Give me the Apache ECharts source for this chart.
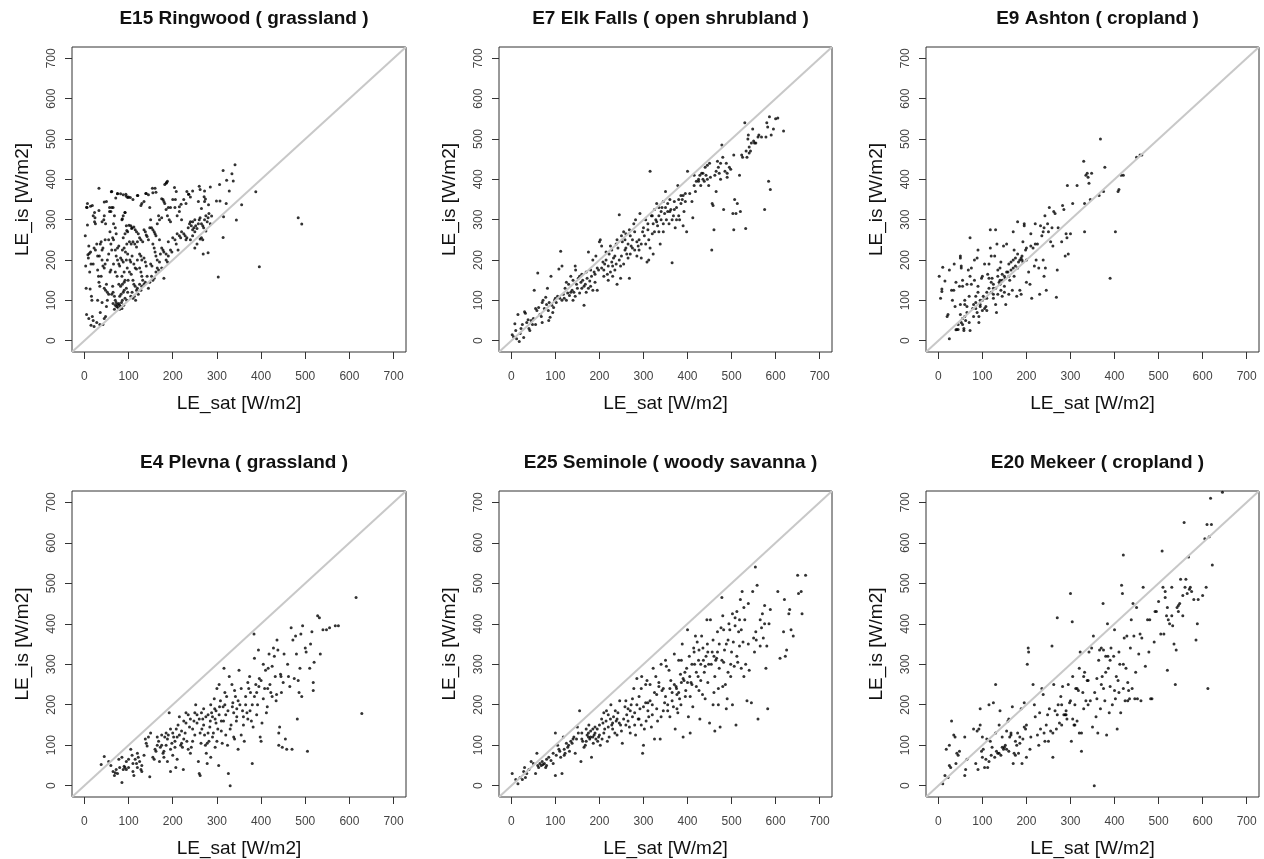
<!DOCTYPE html>
<html>
<head>
<meta charset="utf-8">
<title>LE_is vs LE_sat</title>
<script src="https://cdn.jsdelivr.net/npm/echarts@6/dist/echarts.min.js"></script>
<style>
  html, body { margin: 0; padding: 0; background: #fff; }
  #chart { width: 1264px; height: 859px; }
</style>
</head>
<body>
<div id="chart"></div>
<script>
// panel titles, in reading order
const titles = [
  "E15 Ringwood ( grassland )",
  "E7 Elk Falls ( open shrubland )",
  "E9 Ashton ( cropland )",
  "E4 Plevna ( grassland )",
  "E25 Seminole ( woody savanna )",
  "E20 Mekeer ( cropland )"
];
const tickValues = [0, 100, 200, 300, 400, 500, 600, 700];
const xName = "LE_sat [W/m2]";
const yName = "LE_is [W/m2]";

// [LE_sat, LE_is] pairs
const ringwood = [
  [341,436],[314,422],[334,414],[337,396],[322,398],[328,371],[306,387],[388,369],[299,346],[307,346],
  [321,340],[356,337],[315,307],[344,299],[314,256],[303,158],[396,183],[484,305],[492,289],[280,218],
  [269,215],[275,272],[288,309],[281,337],[272,345],[274,351],[271,357],[285,381],[260,383],[272,371],
  [245,371],[236,363],[232,370],[219,338],[215,332],[206,350],[204,380],[186,392],[182,387],[154,378],
  [155,367],[139,365],[121,360],[100,356],[94,363],[82,364],[75,364],[61,369],[71,354],[33,378],
  [7,340],[5,331],[14,333],[23,318],[33,323],[45,344],[57,330],[62,330],[92,318],[86,302],
  [96,273],[107,278],[101,286],
  [2,260],[3,185],[4,130],[6,330],[7,287],[8,213],[9,205],[10,235],[11,216],[12,170],
  [13,128],[14,220],[15,190],[16,110],[17,100],[18,60],[20,50],[22,35],[5,65],[10,55],
  [15,38],[20,190],[22,230],[25,225],[18,335],[20,310],[24,305],[23,295],[25,290],
  [28,240],[30,175],[32,160],[33,145],[35,135],[30,210],[34,210],[36,240],[38,245],[40,225],
  [42,230],[44,300],[45,310],[48,290],[40,295],[42,185],[45,180],[47,190],[50,140],[52,120],
  [55,115],[48,125],[36,70],[40,95],[42,40],[45,55],[48,60],[50,85],[52,100],[55,250],
  [57,320],[60,320],[58,270],[55,215],[60,175],[58,170],[52,200],[50,345],[47,250],[40,200],
  [38,160],[45,130],[30,100],[35,40],[28,45],
  [62,370],[65,330],[68,310],[66,290],[70,280],[72,265],[75,230],[78,235],[70,225],[72,210],
  [75,200],[78,190],[80,185],[82,205],[85,200],[88,195],[66,190],[70,170],[74,160],[78,140],
  [82,135],[86,140],[90,145],[92,150],[65,120],[68,110],[70,100],[72,95],[75,90],[78,92],
  [80,88],[82,85],[84,95],[86,100],[70,88],[73,85],[76,82],[68,78],[65,92],[62,115],
  [64,135],[80,110],[83,115],[88,120],[90,125],[75,365],[88,362],[95,358],[98,355],[92,318],
  [88,310],[85,300],[95,285],[98,270],[92,265],[88,255],[96,240],[90,230],[86,225],[93,220],
  [98,215],[95,200],[97,180],[90,170],[85,160],[99,150],[95,130],[98,120],[92,105],[96,100],
  [89,88],[85,80],[80,78],[62,225],[60,240],[64,255],[66,250],
  [104,355],[110,350],[120,360],[128,335],[130,340],[135,345],[140,365],[145,362],[148,330],
  [105,285],[108,280],[112,282],[115,275],[118,270],[122,265],[125,255],[128,250],[132,245],[135,275],
  [138,270],[140,262],[142,258],[145,250],[148,280],[102,245],[106,240],[110,245],[114,240],[118,232],
  [120,245],[125,215],[128,210],[130,200],[135,205],[138,195],[140,185],[103,200],[105,195],[108,210],
  [112,190],[115,180],[118,178],[120,200],[125,180],[128,170],[130,160],[132,150],[135,140],[138,145],
  [142,160],[145,130],[148,145],[102,170],[106,165],[110,150],[112,140],[115,135],[118,125],[120,130],
  [122,115],[125,140],[128,125],[130,135],[105,110],[108,120],[110,105],[113,110],[116,100],
  [150,300],[152,280],[155,275],[158,270],[160,265],[162,260],[165,290],[168,310],[170,300],[175,305],
  [178,350],[180,345],[182,340],[185,325],[188,310],[190,330],[192,300],[195,295],[160,378],[162,368],
  [175,352],[188,395],[185,390],[195,330],[155,240],[158,230],[160,220],[162,210],[165,200],[170,195],
  [172,215],[175,230],[178,225],[180,220],[185,215],[188,195],[190,245],[195,225],[198,220],[152,160],
  [155,150],[158,155],[162,170],[165,180],[168,175],[170,250],[175,180],[180,155],[185,200],[190,210],
  [150,190],[153,185],
  [200,255],[205,250],[208,240],[210,265],[215,260],[218,255],[220,270],[225,265],[228,260],[230,250],
  [232,255],[235,280],[238,290],[240,295],[242,285],[245,275],[248,280],[250,270],[252,285],[255,278],
  [258,290],[260,300],[262,305],[265,290],[268,285],[270,280],[272,300],[275,310],[278,295],[280,305],
  [282,315],[285,290],[262,252],[265,255],[268,250],[240,250],[245,260],[250,230],[255,240],[212,225],
  [210,310],[215,320],[220,300],[205,330],[200,350],[208,370],[225,350],[230,340],[236,363],[240,356],
  [258,345],[262,375],[265,328],[245,295],[250,300]
];

const elkFalls = [
  [2,15],[5,10],[8,42],[10,25],[12,5],[15,65],[18,-2],[20,18],[22,30],[25,40],
  [28,8],[30,72],[32,68],[35,45],[38,52],[40,30],[42,25],[45,50],[48,40],[50,55],
  [52,125],[55,80],[58,75],[60,168],[62,82],[65,65],[68,60],[70,95],[72,100],[75,80],
  [78,108],[80,90],[82,130],[84,75],[86,95],[88,58],[90,160],[92,88],[94,70],[96,82],
  [98,100],[100,105],[85,50],[70,45],[55,40],
  [102,95],[105,110],[108,178],[110,105],[112,222],[115,185],[118,115],[120,105],[122,130],[125,145],
  [128,118],[130,140],[132,112],[135,160],[138,125],[140,150],[142,120],[145,185],[148,140],[150,130],
  [152,155],[155,118],[158,145],[160,165],[162,150],[165,88],[168,140],[170,170],[172,155],[175,220],
  [178,148],[180,175],[182,160],[185,200],[188,170],[190,165],[192,210],[195,180],[198,175],[200,245],
  [146,175],[155,160],[135,120],[125,100],[115,100],[160,130],[170,120],[180,135],[190,145],[195,125],
  [185,125],[175,130],[165,135],[145,110],[140,100],
  [202,250],[205,235],[208,195],[210,175],[212,190],[215,200],[218,165],[220,185],[222,215],[225,170],
  [228,195],[230,160],[232,205],[235,175],[238,190],[240,140],[242,230],[245,312],[248,155],[250,210],
  [252,245],[255,270],[258,225],[260,265],[262,215],[265,240],[268,155],[270,260],[272,235],[275,250],
  [278,290],[280,225],[282,300],[285,210],[288,235],[290,250],[292,315],[295,240],[298,270],[300,280],
  [205,180],[215,220],[225,235],[235,210],[245,200],[255,190],[265,205],[275,230],[285,245],[295,205],
  [210,160],[220,150],[230,185],[240,250],[250,260],[260,230],[270,215],[280,270],[290,225],[248,185],
  [228,225],[238,240],[258,250],[268,275],
  [302,260],[305,300],[308,195],[310,275],[312,250],[315,420],[318,310],[320,265],[322,290],[325,325],
  [328,300],[330,340],[332,285],[335,310],[338,240],[340,300],[342,330],[345,270],[348,315],[350,370],
  [352,300],[355,340],[358,290],[360,350],[362,325],[365,193],[368,310],[370,345],[372,280],[375,330],
  [378,385],[380,350],[382,300],[385,340],[388,350],[390,285],[392,320],[395,365],[398,270],[400,420],
  [305,240],[315,230],[325,270],[335,270],[345,345],[355,320],[365,300],[375,300],[385,360],[395,345],
  [310,290],[320,310],[330,295],[340,320],[350,330],[360,320],[370,325],[380,310],[390,360],[345,290],
  [335,330],[322,215],[312,200],
  [405,365],[410,345],[412,305],[415,385],[418,370],[420,395],[425,400],[428,410],[430,385],[432,415],
  [435,400],[438,395],[440,430],[442,410],[445,435],[448,385],[450,440],[452,405],[455,225],[456,340],
  [458,335],[460,275],[462,410],[465,370],[468,445],[470,430],[472,415],[475,400],[478,485],[480,455],
  [482,325],[485,420],[488,440],[490,415],[495,430],[498,425],[415,410],[425,395],[435,415],[445,400],
  [465,420],[475,440],[490,405],
  [503,315],[505,275],[505,460],[507,350],[510,315],[513,340],[518,410],[520,320],[523,460],[525,455],
  [530,540],[532,278],[533,470],[535,455],[537,500],[538,510],[540,465],[543,470],[545,490],[548,525],
  [550,495],[552,490],[560,505],[562,510],[568,505],[575,325],[578,505],[580,540],[582,530],[584,395],
  [586,555],[588,375],[590,510],[595,525],[600,550],[605,552],[618,520],[540,480],[555,490]
];

const ashton = [
  [2,160],[5,105],[8,128],[8,122],[10,182],[15,148],[20,60],[22,65],[25,5],[25,175],
  [30,125],[32,100],[35,125],[36,190],[38,85],[40,27],[40,145],[42,28],[45,28],[48,135],
  [50,65],[50,90],[50,205],[50,210],[52,185],[52,180],[52,45],[55,150],[55,40],[55,135],
  [58,30],[58,25],[60,90],[60,100],[62,50],[65,140],[65,85],[68,175],[70,110],[70,45],
  [72,25],[72,255],[72,160],[75,180],[75,140],[78,80],[80,60],[82,150],[82,200],[85,80],
  [85,110],[88,70],[88,205],[90,225],[90,120],[90,135],[92,45],[92,60],[95,85],[95,100],
  [98,155],[100,160],[100,75],[102,110],[105,80],[105,190],[108,85],[110,75],[110,120],[112,165],
  [115,155],[115,190],[118,275],[118,230],[120,145],[120,210],[122,155],[125,130],[125,105],[125,140],
  [128,210],[130,90],[130,275],[132,70],[133,240],[135,175],[135,115],[138,145],[140,150],[140,180],
  [142,125],[142,195],[145,110],[145,165],[148,235],[150,135],[150,160],[152,155],[153,90],[155,240],
  [158,170],[160,115],[160,190],[162,150],[165,195],[168,125],[170,200],[170,270],[172,225],[172,160],
  [175,185],[175,205],[178,110],[180,215],[180,295],[182,195],[185,200],[185,125],[188,205],[188,115],
  [190,210],[192,245],[192,195],[195,290],[195,285],[198,225],[200,200],[200,145],[205,170],[208,140],
  [210,265],[212,105],[215,230],[218,185],[220,240],[220,290],[222,200],[225,240],[228,180],[230,115],
  [232,285],[235,260],[238,270],[238,200],[240,280],[240,160],[242,310],[243,180],[245,125],[248,290],
  [250,270],[252,330],[255,245],[258,280],[260,235],[262,320],[265,315],[268,108],[270,175],[272,280],
  [280,245],[282,335],[285,325],[288,210],[290,265],[292,255],[293,385],[295,215],[300,265],[305,340],
  [315,385],[330,445],[332,340],[332,270],[335,410],[338,415],[340,405],[342,390],[345,350],[348,415],
  [365,360],[368,500],[375,370],[378,430],[390,155],[402,270],[408,370],[410,375],[415,410],[420,410],
  [450,455],[458,460],[462,460],
  [130,130],[135,160],[145,150],[155,170],[160,160],[165,175],[170,180],[180,180],[190,200],[200,230],
  [210,235],[150,120],[140,140],[120,120],[110,105],[100,100],[95,90],[105,105],[115,130],[125,115],
  [80,90],[85,95],[65,70],[60,60],[55,55],[45,40]
];

const plevna = [
  [38,52],[45,72],[55,60],[60,50],[65,35],[68,25],[70,32],[75,30],[78,65],[80,45],
  [85,8],[88,40],[90,48],[92,45],[95,40],[100,65],[105,90],[108,75],[110,35],[112,25],
  [115,65],[118,55],[120,45],[122,70],[125,60],[128,40],[130,50],[135,75],[138,115],[140,105],
  [142,98],[145,120],[148,22],[150,130],[110,55],[100,45],[130,35],[95,60],[85,70],[72,40],
  [120,80],
  [155,70],[158,65],[160,90],[162,85],[165,100],[168,110],[170,60],[172,95],[175,125],[178,80],
  [180,70],[182,120],[185,100],[188,115],[190,125],[192,180],[195,90],[195,35],[198,105],[200,75],
  [202,120],[205,110],[208,140],[210,65],[212,150],[215,170],[218,100],[220,105],[222,95],[224,40],
  [225,160],[228,130],[230,155],[232,110],[235,175],[238,145],[240,80],[242,95],[245,140],[248,160],
  [250,125],[165,120],[175,100],[185,130],[195,140],[205,95],[215,125],[225,115],[235,90],[245,110],
  [180,85],[200,130],[210,120],[220,135],[230,180],[240,165],[188,60],[207,45],[250,180],
  [252,200],[255,155],[258,60],[260,30],[262,25],[264,105],[266,140],[268,165],[270,190],[272,125],
  [274,100],[276,80],[278,55],[280,175],[282,110],[284,145],[286,200],[288,180],[290,170],[292,130],
  [294,215],[296,165],[298,185],[300,240],[302,140],[304,50],[305,250],[308,210],[310,160],[312,105],
  [314,195],[316,290],[318,230],[320,175],[322,220],[324,100],[326,30],[328,270],[330,0],[332,150],
  [334,250],[336,205],[338,180],[340,235],[342,220],[344,160],[345,190],[348,210],[350,285],[260,165],
  [265,180],[275,170],[285,160],[295,190],[305,175],[315,160],[325,185],[335,195],[345,170],[255,175],
  [270,150],[280,130],[290,120],[300,110],[310,135],[320,125],[330,140],[340,115],[262,130],[278,105],
  [298,155],[318,200],[338,120],[348,90],[306,195],[286,70],[296,95],
  [352,200],[355,125],[358,185],[360,150],[362,110],[365,220],[368,180],[370,255],[372,240],[374,270],
  [376,230],[378,160],[380,55],[382,145],[384,375],[385,315],[388,250],[390,230],[392,200],[394,335],
  [396,265],[398,120],[400,110],[402,155],[405,300],[408,240],[410,285],[412,180],[414,195],[416,290],
  [418,325],[420,250],[422,230],[425,295],[428,340],[430,320],[432,270],[434,210],[436,360],[438,335],
  [440,100],[440,130],[442,145],[444,275],[446,230],[448,95],[450,255],[355,240],[365,200],[375,185],
  [385,220],[395,245],[405,215],[415,240],[425,220],[435,225],[445,270],[360,170],[370,165],[380,200],
  [390,175],[400,260],
  [452,325],[455,115],[458,90],[460,300],[462,270],[465,245],[468,390],[470,90],[472,360],[475,265],
  [478,370],[480,325],[482,165],[484,260],[486,230],[488,290],[490,375],[492,220],[494,395],[500,340],
  [502,330],[505,85],[510,290],[512,350],[515,380],[518,255],[518,235],[520,305],[528,420],[532,415],
  [534,325],[540,385],[548,385],[555,390],[568,395],[575,395],[615,465],[628,178]
];

const seminole = [
  [2,30],[10,15],[15,5],[20,20],[25,15],[28,35],[30,45],[32,20],[35,30],[40,40],
  [45,60],[50,55],[55,30],[58,80],[60,50],[62,45],[65,55],[68,50],[70,60],[72,52],
  [75,55],[78,45],[80,65],[85,70],[90,62],[95,55],[100,130],[100,25],[102,75],[105,100],
  [108,90],[110,85],[115,30],[118,120],[120,75],[122,80],[125,105],[128,95],[130,100],[132,85],
  [135,110],[138,105],[140,115],[142,120],[145,80],[148,115],[150,145],[120,90],[112,70],[95,80],
  [80,50],
  [152,130],[155,185],[158,60],[160,115],[162,110],[165,95],[168,100],[170,140],[172,125],[175,130],
  [178,115],[180,135],[182,70],[185,120],[188,125],[190,130],[192,115],[195,140],[198,120],[200,125],
  [202,100],[205,165],[208,155],[210,180],[212,140],[215,160],[218,110],[220,175],[222,120],[225,165],
  [228,150],[230,140],[232,170],[235,130],[238,160],[240,165],[242,180],[245,155],[248,150],[250,135],
  [160,130],[170,110],[180,120],[190,145],[200,150],[210,130],[220,145],[230,155],[240,125],[176,150],
  [186,105],[196,110],[206,115],[216,185],[226,200],[236,185],[246,210],[185,140],[175,120],
  [252,105],[255,165],[258,195],[260,210],[262,175],[265,160],[268,145],[270,185],[272,200],[275,215],
  [278,240],[280,180],[282,125],[285,265],[288,165],[290,220],[292,190],[295,150],[298,80],[300,100],
  [302,140],[305,205],[308,260],[310,185],[312,170],[315,250],[318,145],[320,200],[322,290],[325,115],
  [328,270],[330,225],[332,160],[335,255],[338,115],[340,300],[342,235],[345,240],[348,205],[350,310],
  [260,150],[270,130],[280,150],[290,165],[300,195],[310,205],[320,175],[330,190],[340,170],[350,220],
  [265,190],[275,170],[285,200],[295,240],[305,250],[315,210],[325,230],[335,245],[345,185],[306,160],
  [296,270],
  [352,295],[355,200],[358,285],[360,170],[362,260],[365,230],[368,195],[370,325],[372,140],[374,245],
  [376,225],[378,180],[380,310],[382,215],[384,275],[386,255],[388,350],[390,120],[392,260],[394,280],
  [396,235],[398,290],[400,385],[402,170],[404,320],[406,130],[408,255],[410,250],[412,195],[414,340],
  [416,300],[418,370],[420,245],[422,355],[424,270],[426,335],[428,165],[430,300],[432,370],[434,225],
  [436,310],[438,280],[440,215],[442,320],[444,410],[446,255],[448,300],[450,155],[360,240],[370,250],
  [380,230],[390,265],[400,255],[410,300],[420,280],[430,260],[440,295],[355,185],[365,210],[375,240],
  [385,200],[395,220],[405,270],[415,330],[425,310],[435,340],[445,350],[376,190],[386,310],[406,220],
  [426,235],[446,330],
  [452,410],[454,300],[456,330],[458,200],[460,320],[462,135],[464,310],[466,315],[468,380],[470,240],
  [472,290],[474,145],[476,390],[478,465],[480,420],[482,305],[484,335],[486,250],[488,190],[490,215],
  [492,280],[494,400],[496,385],[498,270],[500,330],[502,200],[504,355],[506,295],[508,415],[510,150],
  [512,430],[514,305],[516,380],[518,345],[520,460],[522,290],[524,480],[526,355],[528,270],[530,410],
  [532,300],[535,210],[538,450],[540,285],[545,205],[548,480],[550,365],[552,330],[554,540],[556,360],
  [458,360],[468,330],[478,310],[488,350],[498,300],[508,395],[518,410],[528,440],[538,350],[462,270],
  [472,350],[482,385],[492,360],[502,425],[512,320],[522,385],[460,230],[470,200],[480,245],
  [558,495],[560,165],[565,410],[568,390],[570,425],[572,365],[575,445],[578,290],[580,345],[582,190],
  [585,400],[588,435],[605,480],[610,315],[618,380],[620,460],[622,320],[625,335],[630,425],[632,435],
  [635,385],[640,370],[650,520],[652,475],[658,480],[660,425],[668,520],[565,345],[575,400],[555,380]
];

const mekeer = [
  [10,5],[15,25],[18,90],[22,20],[25,100],[25,50],[28,45],[30,160],[35,125],[38,120],
  [40,55],[42,80],[45,75],[48,85],[60,120],[60,25],[62,40],[65,65],[80,140],[85,55],
  [88,135],[90,40],[92,140],[95,150],[95,190],[98,85],[100,70],[100,120],[102,90],[105,45],
  [108,65],[110,115],[112,45],[115,60],[118,110],[115,200],[120,75],[122,95],[125,205],[128,70],
  [130,250],[130,130],[132,85],[135,80],[138,150],[140,185],[142,75],[145,120],[148,90],
  [150,95],[152,100],[155,135],[158,160],[160,165],[162,120],[165,130],[168,195],[170,55],[172,80],
  [175,110],[178,100],[180,130],[182,80],[185,120],[188,190],[190,55],[192,115],[195,205],[198,140],
  [200,150],[200,70],[202,300],[204,340],[205,330],[208,90],[210,120],[215,250],[218,200],[220,170],
  [225,125],[228,100],[230,180],[232,140],[235,240],[238,225],[240,130],[242,110],[245,150],[248,175],
  [250,110],[155,90],[160,85],[165,125],[175,75],[185,105],[195,145],[145,95],[138,80],
  [252,190],[255,135],[258,345],[260,70],[262,250],[265,185],[268,140],[270,415],[272,200],[275,155],
  [278,220],[280,150],[282,245],[285,175],[288,175],[290,185],[292,165],[295,250],[298,205],[300,475],
  [302,110],[304,405],[305,270],[308,150],[310,200],[312,240],[315,160],[318,235],[320,290],[322,330],
  [325,85],[325,130],[328,230],[330,270],[332,280],[335,210],[338,260],[340,200],[342,330],[345,210],
  [348,340],[350,145],[260,130],[270,175],[280,200],[290,175],[300,210],[310,150],[320,130],[330,190],
  [340,260],[305,165],[315,240],
  [352,370],[354,0],[355,230],[358,170],[360,265],[362,130],[364,310],[366,335],[368,190],[370,340],
  [372,270],[374,450],[375,240],[378,210],[380,320],[382,125],[384,400],[386,290],[388,180],[390,245],
  [392,340],[395,200],[398,320],[400,385],[402,215],[404,270],[406,140],[408,260],[410,230],[412,300],
  [414,180],[416,495],[418,475],[420,570],[420,240],[422,365],[424,210],[426,290],[428,370],[430,255],
  [432,235],[434,215],[436,340],[438,410],[440,240],[442,450],[444,370],[446,215],[448,280],[450,440],
  [360,215],[370,250],[380,280],[390,310],[400,235],[410,330],[420,300],[430,210],[385,320],[375,335],
  [452,215],[455,325],[458,375],[460,210],[462,365],[465,490],[470,295],[475,410],[478,330],[480,410],
  [482,215],[485,215],[490,355],[492,430],[495,430],[500,455],[505,375],[508,580],[510,490],[512,375],
  [515,480],[518,420],[520,440],[520,285],[522,410],[525,400],[530,490],[532,395],[535,350],[538,250],
  [540,335],[542,440],[545,445],[548,450],[550,510],[555,420],[558,650],[560,490],[562,510],[565,475],
  [568,565],[570,485],[572,490],[575,480],[580,460],[585,360],[588,400],[590,460],[600,470],[605,610],
  [608,490],[610,645],[612,240],[615,615],[618,710],[620,645],[622,545],[645,725],[555,470],[545,430],
  [530,420],[515,465]
];

const panelData = [ringwood, elkFalls, ashton, plevna, seminole, mekeer];

// plot boxes in pixels: left, top, width, height
const boxes = [
  [72, 47, 334, 305], [499, 47, 333, 305], [926, 47, 333, 305],
  [72, 491, 334, 306], [499, 491, 333, 306], [926, 491, 333, 306]
];
const axisMin = -28, axisMax = 728;
const fontFam = "'Liberation Sans', Arial, Helvetica, sans-serif";

var myChart = echarts.init(document.getElementById("chart"), null, { renderer: "canvas" });

var grid = [], xAxis = [], yAxis = [], series = [], title = [];
for (let i = 0; i < boxes.length; i++) {
  let b = boxes[i];
  grid.push({
    left: b[0], top: b[1], width: b[2], height: b[3],
    show: true, borderColor: "#333", borderWidth: 1, backgroundColor: "#fff"
  });
  title.push({
    text: titles[i],
    left: b[0] + b[2] / 2,
    top: b[1] - 43,
    textAlign: "center",
    textStyle: { fontFamily: fontFam, fontWeight: "bold", fontSize: 19, color: "#111" }
  });
  let axisCommon = {
    gridIndex: i,
    type: "value",
    min: axisMin,
    max: axisMax,
    splitLine: { show: false },
    axisLine: { show: false, onZero: false },
    axisTick: { show: true, inside: false, length: 7, customValues: tickValues, lineStyle: { color: "#333" } },
    nameLocation: "middle",
    nameMoveOverlap: false,
    nameTextStyle: { fontFamily: fontFam, fontSize: 19, color: "#111" }
  };
  xAxis.push(Object.assign({}, axisCommon, {
    name: xName,
    nameGap: 42,
    axisLabel: { customValues: tickValues, margin: 19, fontFamily: fontFam, fontSize: 12, color: "#444" }
  }));
  yAxis.push(Object.assign({}, axisCommon, {
    name: yName,
    nameGap: 40,
    axisLabel: { customValues: tickValues, margin: 14, rotate: 90, fontFamily: fontFam, fontSize: 12, color: "#444" }
  }));
  // 1:1 line from corner to corner
  series.push({
    type: "line",
    xAxisIndex: i,
    yAxisIndex: i,
    data: [],
    silent: true,
    z: 1,
    markLine: {
      silent: true,
      symbol: ["none", "none"],
      label: { show: false },
      lineStyle: { color: "#c8c8c8", width: 2, type: "solid" },
      data: [[{ coord: [axisMin, axisMin] }, { coord: [axisMax, axisMax] }]]
    }
  });
  series.push({
    type: "scatter",
    xAxisIndex: i,
    yAxisIndex: i,
    data: panelData[i],
    symbol: "circle",
    symbolSize: 3,
    itemStyle: { color: "#000" },
    z: 2
  });
}

myChart.setOption({
  animation: false,
  backgroundColor: "#fff",
  title: title,
  grid: grid,
  xAxis: xAxis,
  yAxis: yAxis,
  series: series
});
</script>
</body>
</html>
